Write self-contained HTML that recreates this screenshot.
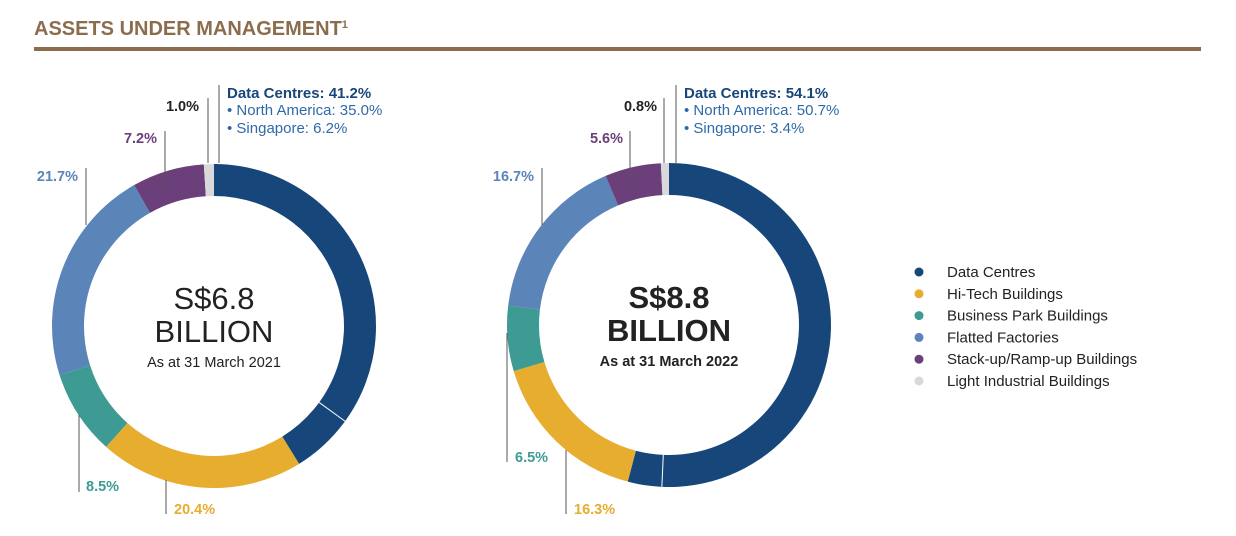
<!DOCTYPE html>
<html><head><meta charset="utf-8"><style>
body{margin:0;background:#fff;width:1236px;height:536px;overflow:hidden;font-family:"Liberation Sans",sans-serif}
svg{position:absolute;left:0;top:0}
</style></head><body>
<svg id="chart" width="1236" height="536">
<text x="34" y="35" font-size="20" font-weight="bold" fill="#8b6d4e">ASSETS UNDER MANAGEMENT<tspan font-size="11" dy="-7">1</tspan></text>
<rect x="34" y="47" width="1167" height="4" fill="#8b6d4e"/>
<g id="donuts"></g>
<g id="legend"></g>
</svg>
<script>
const categories=["Data Centres","Hi-Tech Buildings","Business Park Buildings","Flatted Factories","Stack-up/Ramp-up Buildings","Light Industrial Buildings"];
const colors=["#17477a","#e6ad2e","#3e9b94","#5b84b8","#6b3f7a","#d9d9d9"];
const values2021=[41.2,20.4,8.5,21.7,7.2,1.0];
const values2022=[54.1,16.3,6.5,16.7,5.6,0.8];
const dcSplit2021=[35.0,6.2];
const dcSplit2022=[50.7,3.4];
const totals=["S$6.8","S$8.8"];
const dates=["As at 31 March 2021","As at 31 March 2022"];
const NS="http://www.w3.org/2000/svg";
function mk(t,a,p){const e=document.createElementNS(NS,t);for(const k in a)e.setAttribute(k,a[k]);p.appendChild(e);return e;}
const G=document.getElementById('donuts');
function pt(cx,cy,r,pct){const a=pct/100*2*Math.PI;return [cx+r*Math.sin(a),cy-r*Math.cos(a)];}
function arc(cx,cy,R,r,p0,p1){const [x0,y0]=pt(cx,cy,R,p0),[x1,y1]=pt(cx,cy,R,p1),[x2,y2]=pt(cx,cy,r,p1),[x3,y3]=pt(cx,cy,r,p0);const lg=(p1-p0)>50?1:0;
return `M${x0},${y0}A${R},${R} 0 ${lg} 1 ${x1},${y1}L${x2},${y2}A${r},${r} 0 ${lg} 0 ${x3},${y3}Z`;}
const layouts=[
 [[0,0],[174,514,'start',166,480,514],[86,491,'start',79,415,492],[78,181,'end',86,168,225],[157,143,'end',165,131,185],[199,111,'end',208,98,163]],
 [[0,0],[574,514,'start',566,450,514],[515,462,'start',507,333,462],[534,181,'end',542,168,225],[623,143,'end',630,131,180],[657,111,'end',664,98,163]]
];
const labelCol=["#17477a","#e6ad2e","#3e9b94","#5b84b8","#6b3f7a","#222"];
function donut(idx,cx,cy,vals,split,bold){
 const g=mk('g',{},G);
 
 
 let acc=0;
 vals.forEach((v,i)=>{
  const p=mk('path',{d:arc(cx,cy,162,130,acc,acc+v),fill:colors[i]},g);
  
  
  acc+=v;
 });
 const [a1,b1]=pt(cx,cy,162,split[0]),[a2,b2]=pt(cx,cy,130,split[0]);
 const sep=mk('line',{x1:a1,y1:b1,x2:a2,y2:b2,stroke:'#fff','stroke-width':1},g);
 
 
 const L=layouts[idx];
 for(let i=1;i<6;i++){
  const [tx,ty,an,lx,l1,l2]=L[i];
  const ln=mk('line',{x1:lx,y1:l1,x2:lx,y2:l2,stroke:'#555','stroke-width':1},g);
  
  
  const t=mk('text',{x:tx,y:ty,'text-anchor':an,'font-size':14.5,'font-weight':'bold',fill:labelCol[i]},g);
  t.textContent=vals[i].toFixed(1)+'%';
  
  
 }
 const dx=idx?676:219, tx=dx+8;
 const dl=mk('line',{x1:dx,y1:85,x2:dx,y2:163,stroke:'#555','stroke-width':1},g);
 
 
 const t1=mk('text',{x:tx,y:98,'font-size':15,'font-weight':'bold',fill:'#17477a'},g);
 t1.textContent='Data Centres: '+vals[0].toFixed(1)+'%';
 
 
 const t2=mk('text',{x:tx,y:115,'font-size':15,fill:'#2f6aa8'},g);
 t2.textContent='• North America: '+split[0].toFixed(1)+'%';
 
 
 const t3=mk('text',{x:tx,y:133,'font-size':15,fill:'#2f6aa8'},g);
 t3.textContent='• Singapore: '+split[1].toFixed(1)+'%';
 
 
 const fw=bold?'bold':'normal';
 const c1=mk('text',{x:cx,y:cy-17,'text-anchor':'middle','font-size':31,'font-weight':fw,fill:'#222'},g);
 c1.textContent=totals[idx];
 
 
 const c2=mk('text',{x:cx,y:cy+16,'text-anchor':'middle','font-size':31,'font-weight':fw,fill:'#222'},g);
 c2.textContent='BILLION';
 
 
 const c3=mk('text',{x:cx,y:cy+41,'text-anchor':'middle','font-size':14.5,'font-weight':fw,fill:'#222'},g);
 c3.textContent=dates[idx];
 
 
}
donut(0,214,326,values2021,dcSplit2021,false);
donut(1,669,325,values2022,dcSplit2022,true);
const LG=document.getElementById('legend');
categories.forEach((c,i)=>{
 const y=272+i*21.8;
 const g=mk('g',{},LG);
 
 
 mk('circle',{cx:919,cy:y,r:4.5,fill:colors[i]},g);
 const t=mk('text',{x:947,y:y+5,'font-size':15,fill:'#222'},g);
 t.textContent=c;
});
</script>
</body></html>
